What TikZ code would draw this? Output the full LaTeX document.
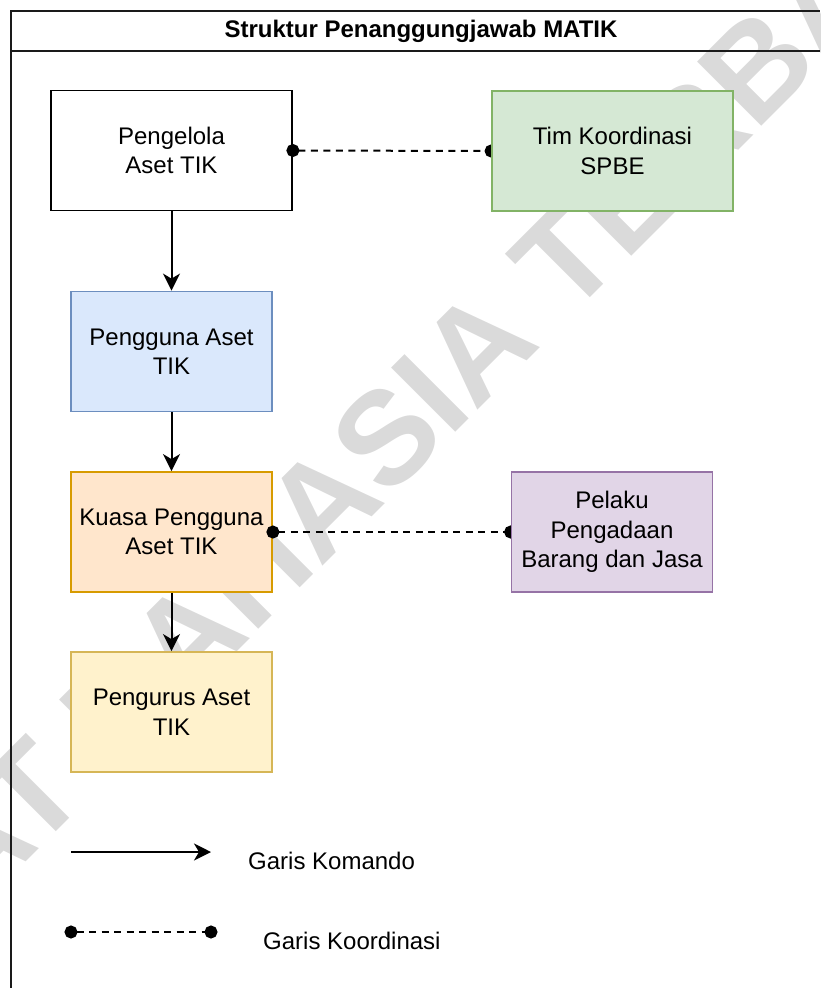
\documentclass[tikz,border=0pt]{standalone}
\usepackage{fontspec}
\setmainfont{Liberation Sans}
\usetikzlibrary{arrows.meta}

\pgfdeclarelayer{front}
\pgfsetlayers{main,front}

\definecolor{frameline}{RGB}{26,26,26}
\definecolor{markgray}{RGB}{218,218,218}
\definecolor{greenfill}{HTML}{D5E8D4}
\definecolor{greenline}{HTML}{82B366}
\definecolor{bluefill}{HTML}{DAE8FC}
\definecolor{blueline}{HTML}{6C8EBF}
\definecolor{orangefill}{HTML}{FFE6CC}
\definecolor{orangeline}{HTML}{D79B00}
\definecolor{yellowfill}{HTML}{FFF2CC}
\definecolor{yellowline}{HTML}{D6B656}
\definecolor{purplefill}{HTML}{E1D5E7}
\definecolor{purpleline}{HTML}{9673A6}

\tikzset{
  unitbox/.style={draw, line width=1.8pt, inner sep=0pt, align=center,
    font=\fontsize{24}{29.5}\selectfont},
  widebox/.style={unitbox, minimum width=241pt, minimum height=120pt},
  narrowbox/.style={unitbox, minimum width=201pt, minimum height=120pt},
  cmdline/.style={line width=2pt, -{Stealth[length=17pt,width=17pt,inset=5pt]}},
  coordline/.style={line width=2pt, dash pattern=on 7pt off 5.5pt,
    {Circle[length=13pt]}-{Circle[length=13pt]},
    shorten <=-6.5pt, shorten >=-6.5pt},
  legendtext/.style={anchor=west, inner sep=0pt, font=\fontsize{24}{29}\selectfont},
  watermark/.style={text=markgray, inner sep=0pt, rotate=45,
    font=\bfseries\fontsize{132}{132}\selectfont}
}

\begin{document}
\begin{tikzpicture}[x=1pt,y=-1pt]
\useasboundingbox (0,0) rectangle (820,988);

% background watermark
\begin{scope}
  \clip (0,0) rectangle (820,988);
  \node[watermark] (mark) at (352,472) {SANGAT RAHASIA TERBATAS};
\end{scope}

% frame and title bar
\draw[frameline, line width=1.6pt] (11,988) -- (11,11) -- (820,11);
\draw[frameline, line width=1.6pt] (11,51) -- (820,51);
\node[font=\bfseries\fontsize{24}{29}\selectfont, inner sep=0pt] (title) at (421,31)
  {Struktur Penanggungjawab MATIK};

% chain of command
\node[widebox, fill=white] (pengelola) at (171.5,150.5) {Pengelola\\Aset TIK};
\node[narrowbox, fill=bluefill, draw=blueline] (pengguna) at (171.5,351.5) {Pengguna Aset\\TIK};
\node[narrowbox, fill=orangefill, draw=orangeline] (kuasa) at (171.5,532) {Kuasa Pengguna\\Aset TIK};
\node[narrowbox, fill=yellowfill, draw=yellowline] (pengurus) at (171.5,712) {Pengurus Aset\\TIK};

% coordinating partners
\begin{pgfonlayer}{front}
  \node[widebox, fill=greenfill, draw=greenline] (tim) at (612.5,151) {Tim Koordinasi\\SPBE};
  \node[narrowbox, fill=purplefill, draw=purpleline] (pelaku) at (612,532) {Pelaku\\Pengadaan\\Barang dan Jasa};
\end{pgfonlayer}

\draw[cmdline] (pengelola) -- (pengguna);
\draw[cmdline] (pengguna) -- (kuasa);
\draw[cmdline] (kuasa) -- (pengurus);

\draw[coordline] (pengelola.east) -- (tim.west);
\draw[coordline] (kuasa.east) -- (pelaku.west);

% legend
\coordinate (cmdA) at (71,852);
\coordinate (cmdB) at (211,852);
\draw[cmdline] (cmdA) -- (cmdB);
\node[legendtext] (cmdlabel) at (248,861) {Garis Komando};

\coordinate (crdA) at (71,932);
\coordinate (crdB) at (211,932);
\draw[coordline] (crdA) -- (crdB);
\node[legendtext] (crdlabel) at (263,941) {Garis Koordinasi};
\end{tikzpicture}
\end{document}
